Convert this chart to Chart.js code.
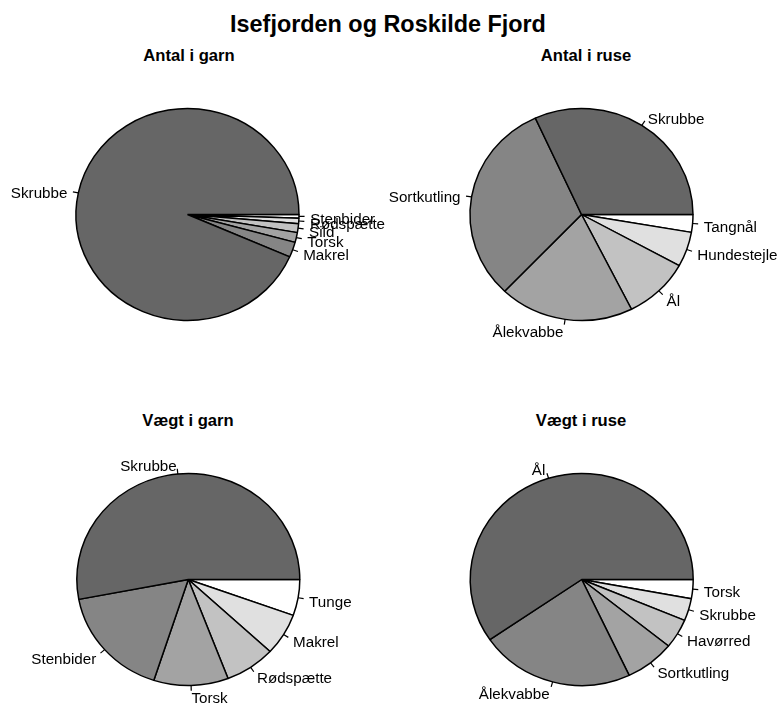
<!DOCTYPE html>
<html>
<head>
<meta charset="utf-8">
<script src="https://cdn.jsdelivr.net/npm/chart.js@4.4.0/dist/chart.umd.min.js"></script>
<style>
  html, body { margin: 0; padding: 0; background: #fff; }
  body { width: 777px; height: 704px; position: relative; overflow: hidden; font-family: "Liberation Sans", Arial, Helvetica, sans-serif; }
  canvas { position: absolute; left: 0; top: 0; }
  .title { position: absolute; white-space: nowrap; font-weight: bold; color: #000; transform: translate(-50%, -50%); line-height: 1; }
</style>
</head>
<body>
<div class="title" style="left:388px;top:25px;font-size:23.4px">Isefjorden og Roskilde Fjord</div>
<div class="title" style="left:189px;top:55.5px;font-size:16.6px">Antal i garn</div>
<div class="title" style="left:586px;top:55.5px;font-size:16.6px">Antal i ruse</div>
<div class="title" style="left:188px;top:421px;font-size:16.6px">Vægt i garn</div>
<div class="title" style="left:581px;top:421px;font-size:16.6px">Vægt i ruse</div>
<canvas id="antalGarn" width="777" height="704"></canvas>
<canvas id="antalRuse" width="777" height="704"></canvas>
<canvas id="vaegtGarn" width="777" height="704"></canvas>
<canvas id="vaegtRuse" width="777" height="704"></canvas>
<script>
  // slices in R order (counterclockwise from 3 o'clock), values in percent
  var antalGarnLabels = ['Skrubbe', 'Makrel', 'Torsk', 'Sild', 'Rødspætte', 'Stenbider'];
  var antalGarnValues = [93.5, 2.3, 1.5, 1.35, 0.83, 0.56];
  var antalRuseLabels = ['Skrubbe', 'Sortkutling', 'Ålekvabbe', 'Ål', 'Hundestejle', 'Tangnål'];
  var antalRuseValues = [31.8, 31.1, 19.5, 9.6, 5.3, 2.7];
  var vaegtGarnLabels = ['Skrubbe', 'Stenbider', 'Torsk', 'Rødspætte', 'Makrel', 'Tunge'];
  var vaegtGarnValues = [53.0, 17.0, 10.8, 7.3, 6.4, 5.5];
  var vaegtRuseLabels = ['Ål', 'Ålekvabbe', 'Sortkutling', 'Havørred', 'Skrubbe', 'Torsk'];
  var vaegtRuseValues = [59.6, 22.4, 7.2, 4.5, 3.4, 2.9];
  var sliceColors = ['#666666', '#858585', '#a3a3a3', '#c2c2c2', '#e0e0e0', '#ffffff'];

  var W = 777, H = 704;
  var RX = 111.5, Y_SCALE = 106 / 111.5;

  // draws the arcs squeezed vertically, then the R-style tick + label per slice
  var pieLabels = {
    id: 'pieLabels',
    beforeDatasetsDraw: function(chart) {
      var a = chart.getDatasetMeta(0).data[0];
      var ctx = chart.ctx;
      ctx.save();
      ctx.translate(a.x, a.y);
      ctx.scale(1, Y_SCALE);
      ctx.translate(-a.x, -a.y);
    },
    afterDatasetsDraw: function(chart) {
      var ctx = chart.ctx;
      ctx.restore();
      var meta = chart.getDatasetMeta(0);
      var labels = chart.data.labels;
      ctx.save();
      ctx.font = '15.2px "Liberation Sans", Arial, Helvetica, sans-serif';
      ctx.fillStyle = '#000';
      ctx.strokeStyle = '#000';
      ctx.lineWidth = 1.2;
      ctx.textBaseline = 'middle';
      meta.data.forEach(function(arc, i) {
        var mid = (arc.startAngle + arc.endAngle) / 2;
        var r = arc.outerRadius;
        var dx = Math.cos(mid), dy = Math.sin(mid) * Y_SCALE;
        ctx.beginPath();
        ctx.moveTo(arc.x + r * dx, arc.y + r * dy);
        ctx.lineTo(arc.x + 1.05 * r * dx, arc.y + 1.05 * r * dy);
        ctx.stroke();
        ctx.textAlign = dx < 0 ? 'right' : 'left';
        ctx.fillText(labels[i], arc.x + 1.1 * r * dx, arc.y + 1.1 * r * dy + 3);
      });
      ctx.restore();
    }
  };

  function makePie(id, labels, values, cx, cy) {
    var s = 120;
    // Chart.js runs clockwise, R counterclockwise: reverse and start at 3 o'clock
    return new Chart(document.getElementById(id), {
      type: 'pie',
      data: {
        labels: labels.slice().reverse(),
        datasets: [{
          data: values.slice().reverse(),
          backgroundColor: sliceColors.slice().reverse(),
          borderColor: '#000',
          borderWidth: 1.5
        }]
      },
      options: {
        responsive: false,
        animation: false,
        events: [],
        rotation: 90,
        radius: RX,
        layout: { padding: { left: cx - s, top: cy - s, right: W - cx - s, bottom: H - cy - s } },
        plugins: { legend: { display: false }, tooltip: { enabled: false }, title: { display: false } }
      },
      plugins: [pieLabels]
    });
  }

  makePie('antalGarn', antalGarnLabels, antalGarnValues, 187.5, 214.5);
  makePie('antalRuse', antalRuseLabels, antalRuseValues, 581.5, 214.5);
  makePie('vaegtGarn', vaegtGarnLabels, vaegtGarnValues, 188.3, 579.5);
  makePie('vaegtRuse', vaegtRuseLabels, vaegtRuseValues, 581.7, 579.5);
</script>
</body>
</html>
